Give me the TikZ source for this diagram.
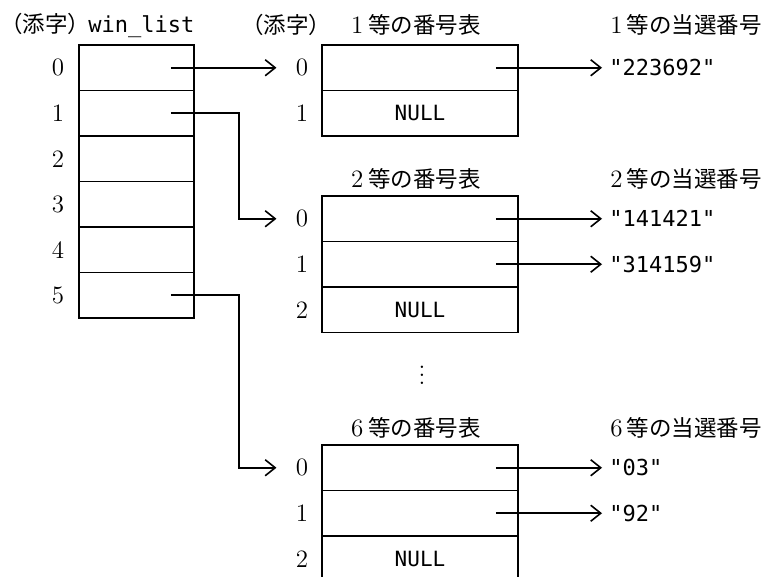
\documentclass[tikz,border=0pt]{standalone}
\usepackage{fontspec}
\setmonofont{DejaVu Sans Mono}
\newfontfamily\jpfont[Scale=0.9]{Noto Sans CJK JP}
\usetikzlibrary{arrows.meta, positioning}

\begin{document}
\begin{tikzpicture}[
  x=0.5pt, y=-0.5pt,
  every node/.style={font=\fontsize{12.5}{14}\selectfont, inner sep=0pt},
  cell/.style={draw, line width=0.8pt, minimum width=57.5pt, minimum height=22.75pt},
  tcell/.style={cell, minimum width=98pt, font=\fontsize{10.5}{12}\selectfont\ttfamily},
  idx/.style={inner xsep=9.5pt},
  str/.style={anchor=west, inner xsep=3.5pt, font=\fontsize{11}{13}\selectfont\ttfamily},
  title/.style={anchor=west, inner xsep=2pt},
  arr/.style={-{Straight Barb[length=5pt, width=8pt]}, line width=0.8pt}
]
  \useasboundingbox (0,0) rectangle (770,577);
  \clip (0,0) rectangle (770,577);

  % win_list column
  \node[anchor=west] (hwl) at (0, 25) {\jpfont （添字）\hspace{-1pt}\fontsize{11}{13}\selectfont\ttfamily win\_list};
  \node[cell] (wl0) at (136.5, 67.75)  {};
  \node[cell] (wl1) at (136.5, 113.25) {};
  \node[cell] (wl2) at (136.5, 158.75) {};
  \node[cell] (wl3) at (136.5, 204.25) {};
  \node[cell] (wl4) at (136.5, 249.75) {};
  \node[cell] (wl5) at (136.5, 295.25) {};
  \node (l0) at (58, 67.75)  {0};
  \node (l1) at (58, 113.25) {1};
  \node (l2) at (58, 158.75) {2};
  \node (l3) at (58, 204.25) {3};
  \node (l4) at (58, 249.75) {4};
  \node (l5) at (58, 295.25) {5};

  % 1st prize table
  \node (hidx) at (286, 25) {\jpfont （添字）};
  \node (h1) at (416, 25) {1\hspace{2.5pt}{\jpfont 等の番号表}};
  \node[tcell] (t10) at (420, 67.75)  {};
  \node[tcell] (t11) at (420, 113.25) {NULL};
  \node[idx] (i10) at (302, 67.75)  {0};
  \node[idx] (i11) at (302, 113.25) {1};
  \node[title] (w1) at (606, 25) {1\hspace{2pt}{\jpfont 等の当選番号}};
  \node[str] (s10) at (602, 67.75) {"223692"};

  % 2nd prize table
  \node (h2) at (416, 179) {2\hspace{2.5pt}{\jpfont 等の番号表}};
  \node[tcell] (t20) at (420, 218.75) {};
  \node[tcell] (t21) at (420, 264.25) {};
  \node[tcell] (t22) at (420, 309.75) {NULL};
  \node[idx] (i20) at (302, 218.75) {0};
  \node[idx] (i21) at (302, 264.25) {1};
  \node[idx] (i22) at (302, 309.75) {2};
  \node[title] (w2) at (606, 179) {2\hspace{2pt}{\jpfont 等の当選番号}};
  \node[str] (s20) at (602, 218.75) {"141421"};
  \node[str] (s21) at (602, 264.25) {"314159"};

  \node (dots) at (422, 369) {$\vdots$};

  % 6th prize table
  \node (h6) at (416, 428) {6\hspace{2.5pt}{\jpfont 等の番号表}};
  \node[tcell] (t60) at (420, 467.75) {};
  \node[tcell] (t61) at (420, 513.25) {};
  \node[tcell] (t62) at (420, 558.75) {NULL};
  \node[idx] (i60) at (302, 467.75) {0};
  \node[idx] (i61) at (302, 513.25) {1};
  \node[idx] (i62) at (302, 558.75) {2};
  \node[title] (w6) at (606, 428) {6\hspace{2pt}{\jpfont 等の当選番号}};
  \node[str] (s60) at (602, 467.75) {"03"};
  \node[str] (s61) at (602, 513.25) {"92"};

  % Arrows
  \draw[arr] ([xshift=-12pt]wl0.east) -- (i10.west);
  \draw[arr] ([xshift=-12pt]wl1.east) -- ++(68,0) |- (i20.west);
  \draw[arr] ([xshift=-12pt]wl5.east) -- ++(68,0) |- (i60.west);
  \draw[arr] ([xshift=-11.5pt]t10.east) -- (s10.west);
  \draw[arr] ([xshift=-11.5pt]t20.east) -- (s20.west);
  \draw[arr] ([xshift=-11.5pt]t21.east) -- (s21.west);
  \draw[arr] ([xshift=-11.5pt]t60.east) -- (s60.west);
  \draw[arr] ([xshift=-11.5pt]t61.east) -- (s61.west);
\end{tikzpicture}
\end{document}
